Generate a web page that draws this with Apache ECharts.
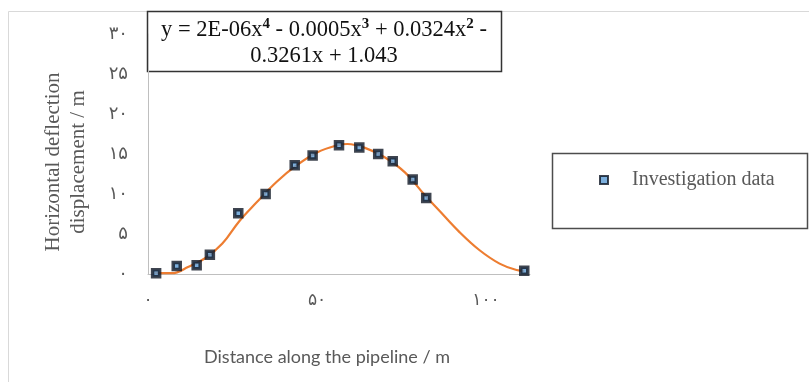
<!DOCTYPE html>
<html>
<head>
<meta charset="utf-8">
<script src="https://cdn.jsdelivr.net/npm/echarts@6/dist/echarts.min.js"></script>
<style>
  html, body { margin: 0; padding: 0; background: #fff; }
  #chart { width: 809px; height: 382px; }
</style>
</head>
<body>
<div id="chart"></div>
<script>
// survey points (distance m, deflection m)
const pointX = [2.4, 8.5, 14.4, 18.3, 26.7, 34.8, 43.4, 48.7, 56.5, 62.5, 68.1, 72.4, 78.3, 82.3, 111.3];
const pointY = [0.1, 1.0, 1.1, 2.4, 7.6, 10.0, 13.6, 14.8, 16.1, 15.8, 15.0, 14.1, 11.8, 9.5, 0.4];

// polynomial trendline
const curveX = [2, 7, 12, 17, 22, 27, 32, 38, 44, 50, 56, 59, 64, 70, 76, 82, 86, 92, 98, 104, 109, 111.3];
const curveY = [0.1, 0.1, 0.9, 2.0, 3.8, 6.6, 8.9, 11.5, 13.6, 15.2, 16.1, 16.25, 15.8, 14.6, 12.7, 9.8, 8.0, 5.3, 3.0, 1.3, 0.5, 0.4];

const xTicks = [0, 50, 100];
const yTicks = [0, 5, 10, 15, 20, 25, 30];
const faDigits = ['۰', '۱', '۲', '۳', '۴', '۵', '۶', '۷', '۸', '۹'];

const toFa = (v) => String(v).split('').map(d => faDigits[+d]).join('');

const gray = '#595959';
const axisGray = '#bfbfbf';

const chart = echarts.init(document.getElementById('chart'));

const option = {
  animation: false,
  backgroundColor: '#fff',
  grid: {
    left: 148,
    right: 279,
    top: 34,
    bottom: 108,
  },
  legend: {
    data: ['Investigation data'],
    left: 599,
    top: 170,
    padding: 0,
    icon: 'path://M0 0H10V10H0Z',
    itemWidth: 46,
    itemHeight: 8,
    textStyle: {
      fontFamily: 'Liberation Serif',
      fontSize: 20,
      color: gray,
    },
  },
  xAxis: {
    type: 'value',
    min: 0,
    max: 113,
    interval: 50,
    splitLine: { show: false },
    axisTick: { show: false },
    axisLine: { lineStyle: { color: axisGray, width: 1 } },
    axisLabel: {
      margin: 18,
      fontFamily: 'DejaVu Sans',
      fontSize: 17,
      color: gray,
      formatter: (v) => xTicks.includes(v) ? toFa(v) : '',
    },
    name: 'Distance along the pipeline / m',
    nameLocation: 'middle',
    nameGap: 74,
    nameTextStyle: {
      fontFamily: 'Lato',
      fontSize: 18,
      color: gray,
      padding: [0, 24, 0, 0],
    },
  },
  yAxis: {
    type: 'value',
    min: 0,
    max: 30,
    interval: 5,
    splitLine: { show: false },
    axisTick: { show: false },
    axisLine: { show: true, lineStyle: { color: axisGray, width: 1 } },
    axisLabel: {
      margin: 20,
      fontFamily: 'DejaVu Sans',
      fontSize: 18,
      color: gray,
      formatter: (v) => yTicks.includes(v) ? toFa(v) : '',
    },
    name: 'Horizontal deflection\ndisplacement / m',
    nameLocation: 'middle',
    nameGap: 57,
    nameTextStyle: {
      fontFamily: 'Liberation Serif',
      fontSize: 21,
      lineHeight: 25,
      color: gray,
      padding: [0, 16, 0, 0],
    },
  },
  graphic: [
    {
      type: 'rect',
      z: -1,
      shape: { x: 8.5, y: 11.5, width: 900, height: 500 },
      style: { fill: 'none', stroke: '#d9d9d9', lineWidth: 1 },
    },
    {
      type: 'rect',
      shape: { x: 552.5, y: 153.5, width: 255, height: 75 },
      style: { fill: 'none', stroke: '#4d4d4d', lineWidth: 1.5 },
    },
    {
      type: 'group',
      z: 100,
      children: [
        {
          type: 'rect',
          shape: { x: 147.5, y: 11.5, width: 354, height: 60 },
          style: { fill: '#fff', stroke: '#333', lineWidth: 1.5 },
        },
        {
          type: 'text',
          x: 324,
          y: 43,
          style: {
            text: 'y = 2E-06x{s|4} - 0.0005x{s|3} + 0.0324x{s|2} -\n0.3261x + 1.043',
            fontFamily: 'Liberation Serif',
            fontSize: 22.5,
            lineHeight: 26,
            fill: '#111',
            align: 'center',
            verticalAlign: 'middle',
            rich: {
              s: { fontFamily: 'Liberation Serif', fontSize: 15, fontWeight: 'bold', verticalAlign: 'top', fill: '#111' },
            },
          },
        },
      ],
    },
  ],
  series: [
    {
      name: 'Trendline',
      type: 'line',
      smooth: 0.4,
      symbol: 'none',
      silent: true,
      lineStyle: { color: '#ed7d31', width: 2.2 },
      itemStyle: { color: '#ed7d31' },
      data: curveX.map((x, i) => [x, curveY[i]]),
      z: 2,
    },
    {
      name: 'Investigation data',
      type: 'scatter',
      symbol: 'rect',
      symbolSize: 7,
      itemStyle: {
        color: '#5b9bd5',
        borderColor: '#0f1724',
        borderWidth: 3.5,
      },
      data: pointX.map((x, i) => [x, pointY[i]]),
      z: 3,
    },
  ],
};

chart.setOption(option);
</script>
</body>
</html>
